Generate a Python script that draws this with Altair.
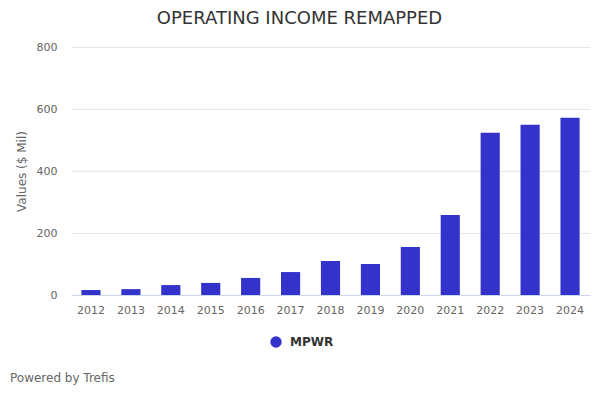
import altair as alt
import pandas as pd

years = ["2012", "2013", "2014", "2015", "2016", "2017", "2018", "2019", "2020", "2021", "2022", "2023", "2024"]
values = [16, 19, 32, 39, 55, 74, 110, 100, 155, 258, 523, 549, 572]
series = ["MPWR"] * len(years)
y_ticks = [0, 200, 400, 600, 800]

df = pd.DataFrame({"Year": years, "Value": values, "Series": series})
FONT = "DejaVu Sans"

bars = alt.Chart(df).mark_bar(color="#3333cc").encode(
    x=alt.X("Year:N", sort=years, title=None,
            scale=alt.Scale(paddingInner=0.52, paddingOuter=0.26),
            axis=alt.Axis(labelAngle=0, labelColor="#666666", labelFontSize=11, labelFont=FONT,
                          ticks=False, domainColor="#ccd6eb", labelPadding=9, grid=False)),
    y=alt.Y("Value:Q", title="Values ($ Mil)",
            scale=alt.Scale(domain=[0, 800], nice=False),
            axis=alt.Axis(values=y_ticks, labelColor="#666666", labelFontSize=11, labelFont=FONT,
                          ticks=False, domain=False, gridColor="#e6e6e6", labelPadding=14,
                          titleColor="#666666", titleFontSize=12, titleFont=FONT,
                          titleFontWeight="normal", titlePadding=8)),
    color=alt.Color("Series:N", scale=alt.Scale(range=["#3333cc"]),
                    legend=alt.Legend(title=None, orient="none", legendX=199, legendY=289,
                                      symbolType="circle", symbolSize=130, symbolStrokeWidth=0,
                                      labelOffset=8,
                                      labelFont=FONT, labelFontSize=12, labelFontWeight="bold",
                                      labelColor="#333333", direction="horizontal")),
)

credit = alt.Chart(pd.DataFrame({"t": ["Powered by Trefis"]})).mark_text(
    align="left", baseline="middle", font=FONT, fontSize=12, color="#666666"
).encode(x=alt.value(-61), y=alt.value(331), text="t:N")

chart = alt.layer(bars, credit).properties(
    width=519, height=248,
    autosize=alt.AutoSizeParams(type="none"),
    padding={"left": 63, "top": 39, "right": 2, "bottom": 97},
    title=alt.TitleParams("OPERATING INCOME REMAPPED", font=FONT, fontSize=18,
                          fontWeight="normal", color="#333333", anchor="middle", dx=-31, offset=13),
).configure_view(stroke=None)

chart.save("out.html", embed_options={"renderer": "svg", "actions": False})
